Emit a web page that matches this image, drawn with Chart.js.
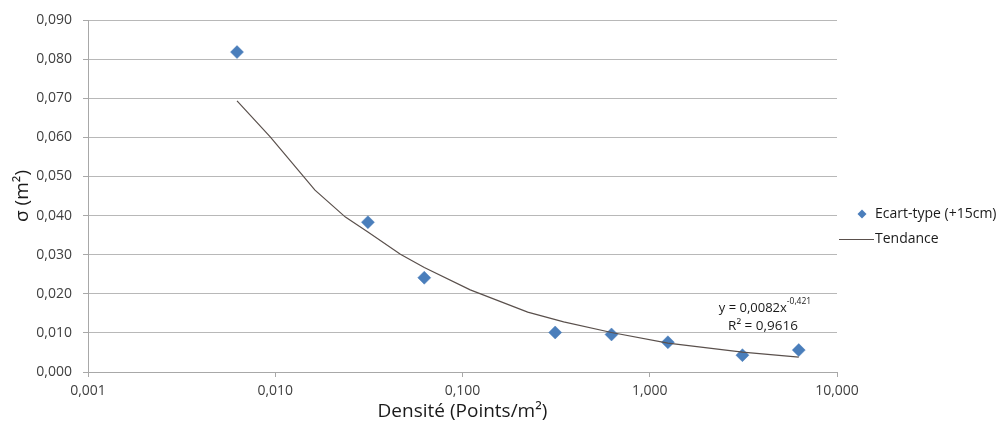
<!DOCTYPE html>
<html><head><meta charset="utf-8">
<script src="https://cdn.jsdelivr.net/npm/chart.js@4/dist/chart.umd.min.js"></script>
<style>html,body{margin:0;padding:0;background:#fff}#wrap{width:999px;height:423px}</style>
</head><body><div id="wrap"><canvas id="c" width="999" height="423"></canvas></div>
<script>
// ---- data ----
const densite = [0.00625, 0.03125, 0.0625, 0.3125, 0.625, 1.25, 3.125, 6.25];
const ecartType = [0.0818, 0.0383, 0.0241, 0.0101, 0.0096, 0.0076, 0.0043, 0.0056];
const trendX = [0.00625, 0.0094, 0.0163, 0.0237, 0.03125, 0.0466, 0.0625, 0.110, 0.223, 0.347, 0.625, 1.25, 3.125, 6.25];
const trendY = [0.0693, 0.0601, 0.0465, 0.0396, 0.0358, 0.0301, 0.0267, 0.0210, 0.0153, 0.0128, 0.0101, 0.0074, 0.0051, 0.0038];
const xTickValues = [0.001, 0.01, 0.1, 1, 10];
const xTickLabels = ['0,001', '0,010', '0,100', '1,000', '10,000'];
const yTickLabels = ['0,000', '0,010', '0,020', '0,030', '0,040', '0,050', '0,060', '0,070', '0,080', '0,090'];
const seriesLabels = ['Ecart-type (+15cm)', 'Tendance'];
const xTitle = 'Densité (Points/m²)';
const yTitle = 'σ (m²)';
const equationMain = 'y = 0,0082x';
const equationExp = '-0,421';
const equationR2 = 'R² = 0,9616';

const FONT = "'Open Sans', 'DejaVu Sans', sans-serif";
const MARKER = '#4a7ebb';
const TREND = '#5a504c';
const GRID = '#b8b8b8';
const AXIS = '#a8a8a8';
const TXT = '#404040';

const extras = {
  id: 'extras',
  afterDraw(chart) {
    const ctx = chart.ctx;
    const a = chart.chartArea;
    ctx.save();
    // legend
    const lx = a.right;
    ctx.fillStyle = MARKER;
    const dx = lx + 25, dy = 214, r = 4.5;
    ctx.beginPath();
    ctx.moveTo(dx - r, dy); ctx.lineTo(dx, dy - r); ctx.lineTo(dx + r, dy); ctx.lineTo(dx, dy + r);
    ctx.closePath(); ctx.fill();
    ctx.fillStyle = '#1a1a1a';
    ctx.font = '14px ' + FONT;
    ctx.textBaseline = 'middle';
    ctx.textAlign = 'left';
    ctx.fillText(seriesLabels[0], lx + 38, 214);
    ctx.strokeStyle = TREND; ctx.lineWidth = 1.2;
    ctx.beginPath(); ctx.moveTo(lx + 2, 239.5); ctx.lineTo(lx + 37, 239.5); ctx.stroke();
    ctx.fillText(seriesLabels[1], lx + 38, 239);
    // equation
    ctx.fillStyle = '#1a1a1a';
    ctx.font = '13px ' + FONT;
    const w1 = ctx.measureText(equationMain).width;
    ctx.font = '8.5px ' + FONT;
    const w2 = ctx.measureText(equationExp).width;
    const cx = a.right - 72;
    const sx = cx - (w1 + w2) / 2;
    ctx.font = '13px ' + FONT;
    ctx.fillText(equationMain, sx, 308);
    ctx.font = '8.5px ' + FONT;
    ctx.fillText(equationExp, sx + w1, 302);
    ctx.font = '13.5px ' + FONT;
    ctx.textAlign = 'center';
    ctx.fillText(equationR2, cx - 2, 326);
    ctx.restore();
  }
};

new Chart(document.getElementById('c'), {
  type: 'scatter',
  data: {
    datasets: [
      {
        label: seriesLabels[1],
        data: trendX.map((x, i) => ({x, y: trendY[i]})),
        showLine: true, pointRadius: 0, borderColor: TREND, borderWidth: 1.2,
        tension: 0, order: 0
      },
      {
        label: seriesLabels[0],
        data: densite.map((x, i) => ({x, y: ecartType[i]})),
        pointStyle: 'rectRot', pointRadius: 6.5, backgroundColor: MARKER,
        borderColor: MARKER, borderWidth: 0.5, order: 1
      }
    ]
  },
  options: {
    responsive: false, animation: false, devicePixelRatio: 1,
    layout: {padding: {top: 20, right: 162, left: 0, bottom: 0}},
    plugins: {legend: {display: false}, tooltip: {enabled: false}},
    scales: {
      x: {
        type: 'logarithmic', min: 0.001, max: 10,
        afterBuildTicks: s => { s.ticks = xTickValues.map(v => ({value: v})); },
        afterFit: s => { s.height = 51; },
        ticks: {
          callback: (v, i) => xTickLabels[i], color: TXT, padding: 6,
          font: {family: FONT, size: 14}, maxRotation: 0, autoSkip: false
        },
        grid: {drawOnChartArea: false, drawTicks: true, tickLength: 5, color: AXIS},
        border: {display: true, color: AXIS, width: 1},
        title: {display: true, text: xTitle, color: '#1a1a1a', font: {family: FONT, size: 19}, padding: {top: 0, bottom: 0}}
      },
      y: {
        min: 0, max: 0.09,
        afterBuildTicks: s => { s.ticks = yTickLabels.map((t, i) => ({value: i * 0.01})); },
        afterFit: s => { s.width = 88; },
        ticks: {
          callback: (v, i) => yTickLabels[i], color: TXT, padding: 11,
          font: {family: FONT, size: 14}
        },
        grid: {color: GRID, drawTicks: true, tickLength: 5, tickColor: AXIS, lineWidth: 1},
        border: {display: true, color: AXIS, width: 1},
        title: {display: true, text: yTitle, color: '#1a1a1a', font: {family: FONT, size: 19}, padding: {top: 11, bottom: 0}}
      }
    }
  },
  plugins: [extras]
});
</script>
</body></html>
